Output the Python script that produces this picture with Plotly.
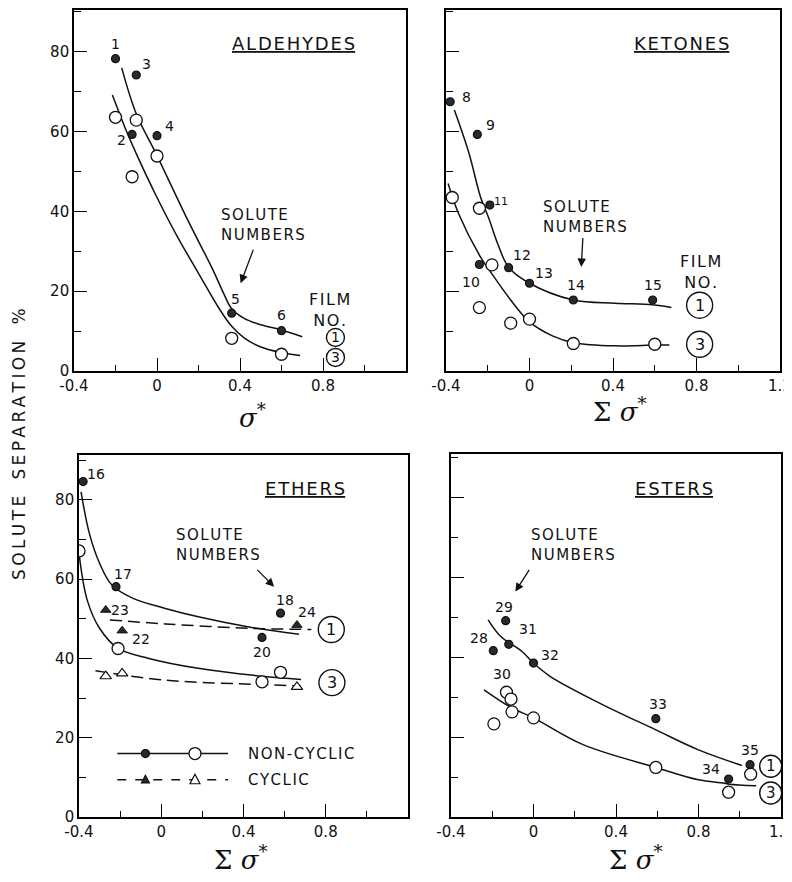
import plotly.graph_objects as go

# ---------------- DATA ----------------
# Aldehydes (x = sigma*, y = solute separation %)
ald_f1_x = [-0.20, -0.12, -0.10, 0.00, 0.36, 0.60]
ald_f1_y = [78.3, 59.3, 74.2, 59.0, 14.5, 10.1]
ald_f1_lbl = ["1", "2", "3", "4", "5", "6"]
ald_f3_x = [-0.20, -0.12, -0.10, 0.00, 0.36, 0.60]
ald_f3_y = [63.6, 48.7, 62.9, 53.9, 8.2, 4.2]
ald_c1_x = [-0.17, -0.10, 0.00, 0.14, 0.27, 0.32, 0.36, 0.42, 0.50, 0.60, 0.70]
ald_c1_y = [76.0, 64.5, 54.0, 38.7, 25.3, 19.6, 15.6, 13.2, 11.6, 10.3, 8.6]
ald_c3_x = [-0.215, -0.15, -0.10, 0.00, 0.10, 0.20, 0.30, 0.36, 0.42, 0.50, 0.60, 0.69]
ald_c3_y = [69.2, 60.5, 54.5, 43.5, 33.5, 24.5, 15.6, 11.2, 8.3, 6.0, 4.6, 3.9]

# Ketones
ket_f1_x = [-0.38, -0.25, -0.24, -0.19, -0.10, 0.00, 0.21, 0.59]
ket_f1_y = [67.5, 59.3, 26.7, 41.6, 25.9, 22.0, 17.8, 17.8]
ket_f1_lbl = ["8", "9", "10", "11", "12", "13", "14", "15"]
ket_f3_x = [-0.37, -0.24, -0.24, -0.18, -0.09, 0.00, 0.21, 0.60]
ket_f3_y = [43.5, 40.8, 15.9, 26.6, 12.0, 13.0, 6.9, 6.7]
ket_c1_x = [-0.36, -0.29, -0.235, -0.195, -0.15, -0.10, 0.00, 0.21, 0.41, 0.59, 0.68]
ket_c1_y = [65.4, 54.6, 43.7, 38.3, 31.6, 26.0, 22.0, 17.8, 17.0, 16.6, 15.9]
ket_c3_x = [-0.39, -0.34, -0.235, -0.17, -0.09, 0.00, 0.11, 0.21, 0.41, 0.60, 0.67]
ket_c3_y = [47.0, 39.5, 28.6, 23.6, 17.8, 12.3, 8.8, 7.1, 6.3, 6.5, 6.5]

# Ethers
eth_nc1_x = [-0.38, -0.22, 0.58, 0.49]
eth_nc1_y = [84.6, 58.1, 51.4, 45.3]
eth_nc1_lbl = ["16", "17", "18", "20"]
eth_nc3_x = [-0.40, -0.21, 0.58, 0.49]
eth_nc3_y = [67.1, 42.5, 36.5, 34.1]
eth_cy1_x = [-0.27, -0.19, 0.66]
eth_cy1_y = [52.2, 47.0, 48.4]
eth_cy1_lbl = ["23", "22", "24"]
eth_cy3_x = [-0.27, -0.19, 0.66]
eth_cy3_y = [35.5, 36.2, 32.8]
eth_c1_x = [-0.39, -0.35, -0.30, -0.24, -0.14, 0.02, 0.18, 0.42, 0.67]
eth_c1_y = [82.0, 71.6, 64.0, 58.5, 55.2, 52.6, 50.5, 48.0, 46.1]
eth_cc1_x = [-0.25, 0.02, 0.42, 0.73]
eth_cc1_y = [49.7, 48.7, 47.6, 47.3]
eth_c3_x = [-0.40, -0.36, -0.30, -0.21, -0.06, 0.18, 0.49, 0.68]
eth_c3_y = [66.5, 54.7, 47.6, 42.5, 40.0, 37.5, 35.5, 34.7]
eth_cc3_x = [-0.32, 0.02, 0.49, 0.68]
eth_cc3_y = [36.9, 34.5, 33.4, 33.0]

# Esters
est_f1_x = [-0.195, -0.135, -0.12, 0.00, 0.593, 0.946, 1.05]
est_f1_y = [41.6, 49.1, 43.2, 38.5, 24.6, 9.5, 13.1]
est_f1_lbl = ["28", "29", "31", "32", "33", "34", "35"]
est_f3_x = [-0.131, -0.109, -0.104, -0.192, 0.00, 0.593, 0.946, 1.053]
est_f3_y = [31.2, 29.5, 26.3, 23.3, 24.8, 12.4, 6.2, 10.7]
est_f3_lbl = ["30", "", "", "", "", "", "", ""]
est_c1_x = [-0.22, -0.16, -0.056, 0.00, 0.08, 0.32, 0.593, 0.80, 1.01]
est_c1_y = [49.3, 45.2, 41.4, 38.5, 35.2, 28.5, 21.8, 16.8, 12.9]
est_c3_x = [-0.24, -0.112, 0.00, 0.24, 0.593, 0.80, 0.92, 0.95, 1.08]
est_c3_y = [31.8, 27.5, 24.8, 18.1, 12.4, 9.3, 8.5, 8.2, 7.8]

x_tickvals = [-0.4, 0, 0.4, 0.8, 1.2]
x_ticktext_left = ["-0.4", "0", "0.4", "0.8", ""]
x_ticktext_right = ["-0.4", "0", "0.4", "0.8", "1.2"]
y_tickvals = [0, 20, 40, 60, 80]
y_ticktext = ["0", "20", "40", "60", "80"]

# ---------------- STYLE / LAYOUT ----------------
W, H = 792, 882
OFF = 8  # the page body adds an 8px margin around the figure
FONT = "DejaVu Sans"
INK = "#111111"
HS = "\u200a"  # hair space used as letter spacing
TS = "\u2009"  # thin space

def spaced(s):
    return HS.join(s)

def px2fx(p):
    return (p - OFF) / W

def px2fy(p):
    return 1 - (p - OFF) / H

dom = {
    1: ([px2fx(74), px2fx(406)], [px2fy(371), px2fy(10)], 90.5),
    2: ([px2fx(446), px2fx(780)], [px2fy(371), px2fy(10)], 90.5),
    3: ([px2fx(79), px2fx(408)], [px2fy(817), px2fy(455)], 91.3),
    4: ([px2fx(451), px2fx(781)], [px2fy(817), px2fy(454)], 90.8),
}

fig = go.Figure()

def ax_names(i):
    s = "" if i == 1 else str(i)
    return "x" + s, "y" + s

def add_curve(i, xs, ys, dash="solid"):
    xa, ya = ax_names(i)
    fig.add_trace(go.Scatter(x=xs, y=ys, mode="lines", xaxis=xa, yaxis=ya,
                             line=dict(color=INK, width=1.5, shape="spline",
                                       smoothing=1.0, dash=dash),
                             showlegend=False, hoverinfo="skip"))

def add_points(i, xs, ys, kind):
    xa, ya = ax_names(i)
    if kind == "filled":
        m = dict(symbol="circle", size=8, color="#2a2a2a", line=dict(color=INK, width=1.2))
    elif kind == "open":
        m = dict(symbol="circle", size=12, color="white", line=dict(color=INK, width=1.3))
    elif kind == "tri_filled":
        m = dict(symbol="triangle-up", size=9, color="#2a2a2a", line=dict(color=INK, width=1))
    else:
        m = dict(symbol="triangle-up", size=10, color="white", line=dict(color=INK, width=1.2))
    fig.add_trace(go.Scatter(x=xs, y=ys, mode="markers", xaxis=xa, yaxis=ya,
                             marker=m, showlegend=False, hoverinfo="skip"))

annotations = []
shapes = []

def label_points(i, xs, ys, labels, offsets, size=14):
    xa, ya = ax_names(i)
    for x, y, t, (dx, dy) in zip(xs, ys, labels, offsets):
        if not t:
            continue
        annotations.append(dict(x=x, y=y, xref=xa, yref=ya, text=t, showarrow=False,
                                xanchor="center", yanchor="middle",
                                xshift=dx, yshift=dy,
                                font=dict(family=FONT, size=(11 if t == "11" else size), color=INK)))

def text(i, x, y, t, size=15, xanchor="center", yanchor="middle", align="center", family=FONT):
    xa, ya = ax_names(i)
    annotations.append(dict(x=x, y=y, xref=xa, yref=ya, text=t, showarrow=False,
                            xanchor=xanchor, yanchor=yanchor, align=align,
                            font=dict(family=family, size=size, color=INK)))

def arrow(i, x0, y0, x1, y1):
    xa, ya = ax_names(i)
    annotations.append(dict(x=x1, y=y1, ax=x0, ay=y0, xref=xa, yref=ya, axref=xa, ayref=ya,
                            text="", showarrow=True, arrowhead=2, arrowsize=1.3,
                            arrowwidth=1.3, arrowcolor=INK))

def circled(i, x, y, t, r, size=15):
    xa, ya = ax_names(i)
    shapes.append(dict(type="circle", xref=xa, yref=ya, xsizemode="pixel", ysizemode="pixel",
                       xanchor=x, yanchor=y, x0=-r, x1=r, y0=-r, y1=r,
                       line=dict(color=INK, width=1.4), fillcolor="white", layer="above"))
    text(i, x, y, t, size=size)

SN = spaced("SOLUTE") + "<br>" + spaced("NUMBERS")
FN = spaced("FILM") + "<br>" + spaced("NO.")

# ---- Panel 1: Aldehydes
add_curve(1, ald_c1_x, ald_c1_y)
add_curve(1, ald_c3_x, ald_c3_y)
add_points(1, ald_f3_x, ald_f3_y, "open")
add_points(1, ald_f1_x, ald_f1_y, "filled")
label_points(1, ald_f1_x, ald_f1_y, ald_f1_lbl,
             [(0, 15), (-11, -6), (10, 11), (12, 10), (4, 14), (0, 16)])
text(1, 0.66, 82.1, "<u>" + spaced("ALDEHYDES") + "</u>", size=18)
text(1, 0.30, 36.6, SN, size=15, xanchor="left", align="left")
arrow(1, 0.467, 30.8, 0.403, 22.0)
text(1, 0.83, 15.3, FN, size=16)
circled(1, 0.86, 8.4, "1", 9, size=14)
circled(1, 0.86, 3.4, "3", 9, size=14)

# ---- Panel 2: Ketones
add_curve(2, ket_c1_x, ket_c1_y)
add_curve(2, ket_c3_x, ket_c3_y)
add_points(2, ket_f3_x, ket_f3_y, "open")
add_points(2, ket_f1_x, ket_f1_y, "filled")
label_points(2, ket_f1_x, ket_f1_y, ket_f1_lbl,
             [(16, 5), (13, 9), (-8, -17), (11, 4), (13, 13), (14, 10), (3, 15), (0, 15)])
text(2, 0.728, 82.1, "<u>" + spaced("KETONES") + "</u>", size=18)
text(2, 0.056, 38.7, SN, size=15, xanchor="left", align="left")
arrow(2, 0.256, 33.7, 0.248, 26.1)
text(2, 0.818, 24.9, FN, size=16)
circled(2, 0.815, 16.5, "1", 13, size=16)
circled(2, 0.815, 6.7, "3", 13, size=16)

# ---- Panel 3: Ethers
add_curve(3, eth_c1_x, eth_c1_y)
add_curve(3, eth_c3_x, eth_c3_y)
add_curve(3, eth_cc1_x, eth_cc1_y, dash="12px,6px")
add_curve(3, eth_cc3_x, eth_cc3_y, dash="12px,6px")
add_points(3, eth_nc3_x, eth_nc3_y, "open")
add_points(3, eth_cy3_x, eth_cy3_y, "tri_open")
add_points(3, eth_nc1_x, eth_nc1_y, "filled")
add_points(3, eth_cy1_x, eth_cy1_y, "tri_filled")
label_points(3, eth_nc1_x, eth_nc1_y, eth_nc1_lbl, [(13, 8), (7, 13), (4, 13), (0, -15)])
label_points(3, eth_cy1_x, eth_cy1_y, eth_cy1_lbl, [(14, 0), (19, -8), (10, 13)])
text(3, 0.70, 82.9, "<u>" + spaced("ETHERS") + "</u>", size=18)
text(3, 0.062, 68.6, SN, size=15, xanchor="left", align="left")
arrow(3, 0.46, 62.7, 0.549, 58.1)
circled(3, 0.827, 47.3, "1", 13, size=16)
circled(3, 0.83, 33.9, "3", 13, size=16)
# key (legend) drawn inside the ethers panel
for yk, dash in ((16.0, "solid"), (9.4, "dash")):
    shapes.append(dict(type="line", xref="x3", yref="y3", x0=-0.214, x1=0.325, y0=yk, y1=yk,
                       line=dict(color=INK, width=1.4, dash=dash), layer="above"))
for xk, fill in ((-0.077, "#2a2a2a"), (0.164, "white")):
    r = 4 if fill != "white" else 6
    shapes.append(dict(type="circle", xref="x3", yref="y3", xsizemode="pixel", ysizemode="pixel",
                       xanchor=xk, yanchor=16.0, x0=-r, x1=r, y0=-r, y1=r,
                       line=dict(color=INK, width=1.3), fillcolor=fill, layer="above"))
    s = 4 if fill != "white" else 5
    shapes.append(dict(type="path", xref="x3", yref="y3", xsizemode="pixel", ysizemode="pixel",
                       xanchor=xk, yanchor=9.4,
                       path=f"M{-s},{-s*0.8} L{s},{-s*0.8} L0,{s*1.1} Z",
                       line=dict(color=INK, width=1.2), fillcolor=fill, layer="above"))
text(3, 0.41, 16.0, spaced("NON-CYCLIC"), size=15, xanchor="left")
text(3, 0.41, 9.4, spaced("CYCLIC"), size=15, xanchor="left")

# ---- Panel 4: Esters
add_curve(4, est_c1_x, est_c1_y)
add_curve(4, est_c3_x, est_c3_y)
add_points(4, est_f3_x, est_f3_y, "open")
add_points(4, est_f1_x, est_f1_y, "filled")
label_points(4, est_f1_x, est_f1_y, est_f1_lbl,
             [(-14, 13), (-2, 14), (19, 15), (16, 8), (2, 15), (-18, 10), (0, 15)])
label_points(4, est_f3_x, est_f3_y, est_f3_lbl, [(-4, 18)] + [(0, 0)] * 7)
text(4, 0.68, 82.2, "<u>" + spaced("ESTERS") + "</u>", size=18)
text(4, -0.024, 68.1, SN, size=15, xanchor="left", align="left")
arrow(4, -0.016, 62.2, -0.088, 56.4)
circled(4, 1.15, 12.7, "1", 11, size=15)
circled(4, 1.15, 6.0, "3", 11, size=15)

# ---- axis titles (paper coordinates)
sig_font = dict(family="DejaVu Serif", size=26, color=INK)
annotations.append(dict(x=px2fx(252), y=px2fy(416), xref="paper", yref="paper", showarrow=False,
                        xanchor="center", yanchor="middle",
                        text="<i>σ</i><sup>*</sup>", font=sig_font))
for cx, cy in ((620, 410), (241, 858), (636, 858)):
    annotations.append(dict(x=px2fx(cx), y=px2fy(cy), xref="paper", yref="paper", showarrow=False,
                            xanchor="center", yanchor="middle",
                            text="Σ <i>σ</i><sup>*</sup>", font=sig_font))
ytitle = "   ".join(TS.join(w) for w in ["SOLUTE", "SEPARATION", "%"])
annotations.append(dict(x=px2fx(19), y=px2fy(444), xref="paper", yref="paper", showarrow=False,
                        xanchor="center", yanchor="middle",
                        text=ytitle, textangle=-90,
                        font=dict(family=FONT, size=17, color=INK)))

# ---- axes
layout_axes = {}
for i in (1, 2, 3, 4):
    xd, yd, ytop = dom[i]
    s = "" if i == 1 else str(i)
    xa, ya = ax_names(i)
    layout_axes["xaxis" + s] = dict(
        domain=xd, anchor=ya, range=[-0.4, 1.2], showgrid=False, zeroline=False,
        showline=True, mirror=True, linecolor="black", linewidth=1.6,
        ticks="inside", ticklen=13, tickwidth=1.3, tickcolor="black",
        tickvals=x_tickvals, automargin=False,
        ticktext=(x_ticktext_left if i in (1, 3) else x_ticktext_right),
        minor=dict(ticks="inside", ticklen=6, tickwidth=1.2, tickcolor="black",
                   dtick=0.2, tick0=0),
        tickfont=dict(family=FONT, size=15, color=INK), fixedrange=True)
    layout_axes["yaxis" + s] = dict(
        domain=yd, anchor=xa, range=[0, ytop], showgrid=False, zeroline=False,
        showline=True, mirror=True, linecolor="black", linewidth=1.6,
        ticks="inside", ticklen=13, tickwidth=1.3, tickcolor="black",
        tickvals=y_tickvals, ticktext=y_ticktext, automargin=False,
        showticklabels=(i in (1, 3)),
        minor=dict(ticks="inside", ticklen=7, tickwidth=1.2, tickcolor="black",
                   dtick=10, tick0=0),
        tickfont=dict(family=FONT, size=15, color=INK), fixedrange=True)

fig.update_layout(width=W, height=H, margin=dict(l=0, r=0, t=0, b=0, autoexpand=False),
                  paper_bgcolor="white", plot_bgcolor="white",
                  showlegend=False, annotations=annotations, shapes=shapes,
                  **layout_axes)

fig.write_html("out.html")
